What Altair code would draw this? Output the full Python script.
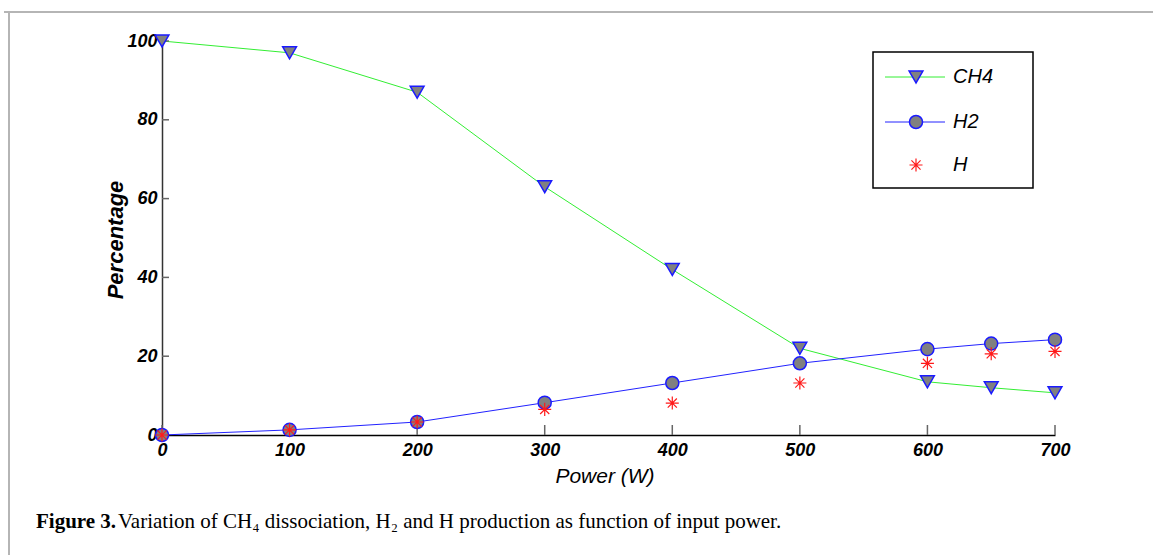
import altair as alt
import pandas as pd

power = [0, 100, 200, 300, 400, 500, 600, 650, 700]
ch4 = [100, 97, 87, 63, 42, 22, 13.5, 12, 10.7]
h2 = [0, 1.3, 3.3, 8.2, 13.2, 18.2, 21.8, 23.2, 24.2]
h = [0, 1.3, 3.3, 6.5, 8.1, 13.2, 18.2, 20.6, 21.2]

x_ticks = [0, 100, 200, 300, 400, 500, 600, 700]
y_ticks = [0, 20, 40, 60, 80, 100]

df = pd.DataFrame({"power": power, "ch4": ch4, "h2": h2, "h": h})
one = pd.DataFrame({"a": [0]})

W, H = 893, 394
SANS = "Liberation Sans"
SERIF = "Liberation Serif"
ASTERISK = "M0,-1V1M-1,0H1M-0.7,-0.7L0.7,0.7M-0.7,0.7L0.7,-0.7"

xs = alt.Scale(domain=[0, 700], nice=False, zero=False)
ys = alt.Scale(domain=[0, 100], nice=False)

xaxis = alt.Axis(values=x_ticks, ticks=False, domainColor="black", domainWidth=1.5,
                 labelFont=SANS, labelFontStyle="italic", labelFontWeight="bold",
                 labelFontSize=18, labelColor="black", labelPadding=6, grid=False,
                 title=None, labelFlush=False)
yaxis = alt.Axis(values=y_ticks, ticks=False, domainColor="#333333", domainWidth=1.5,
                 labelFont=SANS, labelFontStyle="italic", labelFontWeight="bold",
                 labelFontSize=18, labelColor="black", labelPadding=5, grid=False,
                 title=None, labelFlush=False)

base = alt.Chart(df)
X = alt.X("power:Q", scale=xs, axis=xaxis)

ch4_line = base.mark_line(color="#33ee33", strokeWidth=1).encode(
    x=X, y=alt.Y("ch4:Q", scale=ys, axis=yaxis))
h2_line = base.mark_line(color="#2222ff", strokeWidth=1).encode(
    x=alt.X("power:Q", scale=xs), y=alt.Y("h2:Q", scale=ys))
ch4_pts = base.mark_point(shape="triangle-down", filled=True, fill="#808080", fillOpacity=1,
                          stroke="#1a1aff", strokeWidth=1.5, size=190, opacity=1).encode(
    x=alt.X("power:Q", scale=xs), y=alt.Y("ch4:Q", scale=ys))
h2_pts = base.mark_point(shape="circle", filled=True, fill="#808080", fillOpacity=1,
                         stroke="#1a1aff", strokeWidth=1.5, size=170, opacity=1).encode(
    x=alt.X("power:Q", scale=xs), y=alt.Y("h2:Q", scale=ys))
h_pts = base.mark_point(shape=ASTERISK, filled=False, stroke="#ff1a1a", strokeWidth=1.2,
                        size=170, opacity=1).encode(
    x=alt.X("power:Q", scale=xs), y=alt.Y("h:Q", scale=ys))

xt = alt.Chart(pd.DataFrame({"t": x_ticks})).mark_rule(color="#666666", strokeWidth=1.5).encode(
    x=alt.X("t:Q", scale=xs), y=alt.value(H), y2=alt.value(H - 10))
yt = alt.Chart(pd.DataFrame({"t": y_ticks})).mark_rule(color="#666666", strokeWidth=1.5).encode(
    y=alt.Y("t:Q", scale=ys), x=alt.value(0), x2=alt.value(7))

ytitle = alt.Chart(one).mark_text(text="Percentage", font=SANS, fontStyle="italic",
                                  fontWeight="bold", fontSize=22, angle=270,
                                  align="center", baseline="middle", color="black").encode(
    x=alt.value(-46), y=alt.value(199))
xtitle = alt.Chart(one).mark_text(text="Power (W)", font=SANS, fontStyle="italic",
                                  fontSize=21, align="center", baseline="middle",
                                  color="black").encode(
    x=alt.value(443), y=alt.value(436))

# legend
leg_box = alt.Chart(one).mark_rect(fill="white", stroke="black", strokeWidth=1.5).encode(
    x=alt.value(711), x2=alt.value(871), y=alt.value(11), y2=alt.value(147))
leg_l1 = alt.Chart(one).mark_rule(color="#33ee33", strokeWidth=1).encode(
    x=alt.value(723), x2=alt.value(783), y=alt.value(36))
leg_l2 = alt.Chart(one).mark_rule(color="#2222ff", strokeWidth=1).encode(
    x=alt.value(723), x2=alt.value(783), y=alt.value(81))
leg_m1 = alt.Chart(one).mark_point(shape="triangle-down", filled=True, fill="#808080",
                                   fillOpacity=1, stroke="#1a1aff", strokeWidth=1.5,
                                   size=190, opacity=1).encode(
    x=alt.value(754), y=alt.value(36))
leg_m2 = alt.Chart(one).mark_point(shape="circle", filled=True, fill="#808080",
                                   fillOpacity=1, stroke="#1a1aff", strokeWidth=1.5,
                                   size=170, opacity=1).encode(
    x=alt.value(754), y=alt.value(81))
leg_m3 = alt.Chart(one).mark_point(shape=ASTERISK, filled=False, stroke="#ff1a1a",
                                   strokeWidth=1.2, size=170, opacity=1).encode(
    x=alt.value(754), y=alt.value(124))
leg_txt = []
for lab, yy in [("CH4", 36), ("H2", 81), ("H", 124)]:
    leg_txt.append(alt.Chart(one).mark_text(text=lab, font=SANS, fontStyle="italic",
                                            fontSize=20, align="left", baseline="middle",
                                            color="black").encode(
        x=alt.value(791), y=alt.value(yy)))

# caption and frame
cap1 = alt.Chart(one).mark_text(text="Figure 3.", font=SERIF, fontWeight="bold", fontSize=21,
                                align="left", baseline="middle", color="black").encode(
    x=alt.value(-126), y=alt.value(481))
cap2 = alt.Chart(one).mark_text(
    text="Variation of CH\u2084 dissociation, H\u2082 and H production as function of input power.",
    font=SERIF, fontSize=21, align="left", baseline="middle", color="black").encode(
    x=alt.value(-44), y=alt.value(481))
frame_top = alt.Chart(one).mark_rule(color="#b5b5b5", strokeWidth=2).encode(
    x=alt.value(-158), x2=alt.value(995), y=alt.value(-29))
frame_left = alt.Chart(one).mark_rule(color="#b5b5b5", strokeWidth=2).encode(
    x=alt.value(-153), y=alt.value(-29), y2=alt.value(520))

chart = alt.layer(
    frame_top, frame_left,
    ch4_line, h2_line, xt, yt, ch4_pts, h2_pts, h_pts,
    leg_box, leg_l1, leg_l2, leg_m1, leg_m2, leg_m3, *leg_txt,
    ytitle, xtitle, cap1, cap2
).properties(
    width=W, height=H,
    autosize=alt.AutoSizeParams(type="none"),
    padding={"left": 162, "top": 41, "right": 98, "bottom": 120},
).configure_view(stroke=None)

chart.save("out.html", embed_options={"renderer": "svg", "actions": False})
